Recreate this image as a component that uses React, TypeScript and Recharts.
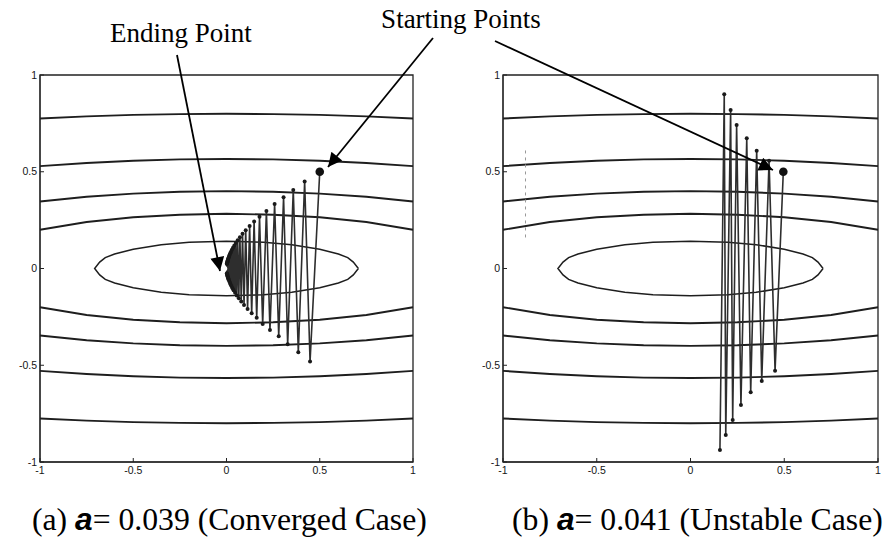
import React from 'react'
import { ScatterChart, Scatter, XAxis, YAxis, ReferenceArea } from 'recharts'

// axis ticks shared by both panels
const axisTicks = [-1, -0.5, 0, 0.5, 1]

// open contours (upper half), read at these x positions; lower half is the mirror image
const contourX = [-1, -0.75, -0.5, -0.25, 0, 0.25, 0.5, 0.75, 1]
const contourLevels = [
  [0.775, 0.786, 0.794, 0.798, 0.8, 0.798, 0.794, 0.786, 0.775],
  [0.529, 0.545, 0.557, 0.564, 0.566, 0.564, 0.557, 0.545, 0.529],
  [0.346, 0.371, 0.387, 0.397, 0.4, 0.397, 0.387, 0.371, 0.346],
  [0.2, 0.24, 0.265, 0.278, 0.283, 0.278, 0.265, 0.24, 0.2],
]

// innermost closed contour, upper half from right tip to left tip
const ellipseX = [0.707, 0.68, 0.65, 0.6, 0.5, 0.35, 0.2, 0, -0.2, -0.35, -0.5, -0.6, -0.65, -0.68, -0.707]
const ellipseY = [0, 0.033, 0.056, 0.075, 0.1, 0.123, 0.136, 0.141, 0.136, 0.123, 0.1, 0.075, 0.056, 0.033, 0]

// (a) alpha = 0.039, converging iterates
const convergedX = [
  0.5, 0.448, 0.419, 0.385, 0.358, 0.328, 0.306, 0.28, 0.258, 0.233, 0.214, 0.194, 0.177, 0.162,
  0.148, 0.135, 0.124, 0.113, 0.103, 0.094, 0.086, 0.079, 0.072, 0.066, 0.06, 0.055, 0.05, 0.046,
  0.042, 0.038, 0.035, 0.032, 0.029, 0.027, 0.024, 0.022, 0.02, 0.019, 0.017, 0.016, 0.014, 0.013,
  0.012, 0.011, 0.01, 0.009, 0.008, 0.008, 0.007, 0.006, 0.006, 0.005, 0.005, 0.004, 0.004, 0.003,
  0.003, 0.003, 0.002, 0.002, 0.002,
]
const convergedY = [
  0.5, -0.481, 0.449, -0.433, 0.406, -0.392, 0.368, -0.35, 0.333, -0.318, 0.297, -0.287, 0.268, -0.255,
  0.243, -0.231, 0.22, -0.209, 0.198, -0.188, 0.179, -0.17, 0.162, -0.154, 0.146, -0.139, 0.132, -0.125,
  0.119, -0.113, 0.107, -0.102, 0.097, -0.092, 0.087, -0.083, 0.079, -0.075, 0.071, -0.068, 0.064, -0.061,
  0.058, -0.055, 0.052, -0.05, 0.047, -0.045, 0.043, -0.041, 0.039, -0.037, 0.035, -0.033, 0.032, -0.03,
  0.029, -0.027, 0.026, -0.025, 0.023,
]
const endPointX = [-0.01]
const endPointY = [0]

// (b) alpha = 0.041, diverging iterates
const unstableX = [0.495, 0.451, 0.419, 0.38, 0.353, 0.321, 0.3, 0.269, 0.246, 0.225, 0.214, 0.188, 0.18, 0.157]
const unstableY = [0.5, -0.528, 0.557, -0.581, 0.609, -0.64, 0.673, -0.705, 0.742, -0.783, 0.819, -0.861, 0.9, -0.938]

// faint dashed mark on the left of panel (b)
const markX = [-0.88, -0.88]
const markY = [0.61, 0.16]

type Pt = { x: number; y: number }
const zip = (xs: number[], ys: number[]): Pt[] => xs.map((x, i) => ({ x, y: ys[i] }))

const contours: Pt[][] = contourLevels.flatMap((ys) => [
  zip(contourX, ys),
  zip(contourX, ys.map((y) => -y)),
])
const ellipse: Pt[] = [
  ...zip(ellipseX, ellipseY),
  ...zip([...ellipseX].reverse(), ellipseY.map((y) => -y)),
]

const noDot = () => <g />
const smallDot = (p: any) => <circle cx={p.cx} cy={p.cy} r={2} fill="#1a1a1a" />
const startDot = (p: any) => <circle cx={p.cx} cy={p.cy} r={4.3} fill="#111" />
const endDot = (p: any) => <circle cx={p.cx} cy={p.cy} r={2.6} fill="#fff" />

const tickStyle = { fontSize: 10.5, fill: '#151515', fontFamily: 'Liberation Sans, Arial, sans-serif' }

function Panel({
  left,
  width,
  marginRight,
  path,
  start,
  end,
  mark,
}: {
  left: number
  width: number
  marginRight: number
  path: Pt[]
  start: Pt[]
  end?: Pt[]
  mark?: Pt[]
}) {
  return (
    <div style={{ position: 'absolute', left, top: 0 }}>
      <ScatterChart width={width} height={500} margin={{ top: 75, right: marginRight, bottom: 18, left: 10 }}>
        <XAxis
          type="number"
          dataKey="x"
          domain={[-1, 1]}
          ticks={axisTicks}
          interval={0}
          height={20}
          tickSize={-4}
          tickMargin={9}
          stroke="#222"
          tick={tickStyle}
        />
        <YAxis
          type="number"
          dataKey="y"
          domain={[-1, 1]}
          ticks={axisTicks}
          interval={0}
          width={30}
          tickSize={-4}
          tickMargin={7}
          stroke="#222"
          tick={tickStyle}
        />
        <ReferenceArea x1={-1} x2={1} y1={-1} y2={1} fill="none" stroke="#222" strokeWidth={1.3} />
        {contours.map((c, i) => (
          <Scatter
            key={i}
            data={c}
            line={{ stroke: '#1e1e1e', strokeWidth: 1.9 }}
            lineType="joint"
            shape={noDot}
            isAnimationActive={false}
          />
        ))}
        <Scatter
          data={ellipse}
          line={{ stroke: '#1e1e1e', strokeWidth: 1.5 }}
          lineType="joint"
          shape={noDot}
          isAnimationActive={false}
        />
        {mark && (
          <Scatter
            data={mark}
            line={{ stroke: '#999', strokeWidth: 1, strokeDasharray: '3 4' }}
            lineType="joint"
            shape={noDot}
            isAnimationActive={false}
          />
        )}
        <Scatter
          data={path}
          line={{ stroke: '#2e2e2e', strokeWidth: 1.6 }}
          lineType="joint"
          shape={smallDot}
          isAnimationActive={false}
        />
        <Scatter data={start} shape={startDot} isAnimationActive={false} />
        {end && <Scatter data={end} shape={endDot} isAnimationActive={false} />}
      </ScatterChart>
    </div>
  )
}

const serif = 'Liberation Serif, Times New Roman, serif'

export default function App() {
  const converged = zip(convergedX, convergedY)
  const unstable = zip(unstableX, unstableY)
  return (
    <div style={{ position: 'absolute', left: 0, top: 0, width: 886, height: 543, background: '#fff', overflow: 'hidden' }}>
      <Panel left={0} width={440} marginRight={27} path={converged} start={converged.slice(0, 1)} end={zip(endPointX, endPointY)} />
      <Panel left={463} width={423} marginRight={8} path={unstable} start={unstable.slice(0, 1)} mark={zip(markX, markY)} />
      <svg width={886} height={543} style={{ position: 'absolute', left: 0, top: 0, pointerEvents: 'none' }}>
        <defs>
          <marker
            id="head"
            viewBox="0 0 10 10"
            refX="10"
            refY="5"
            markerWidth="20"
            markerHeight="14"
            markerUnits="userSpaceOnUse"
            orient="auto"
          >
            <path d="M0,0 L10,5 L0,10 z" fill="#000" />
          </marker>
        </defs>
        <text x={181} y={42} textAnchor="middle" fontFamily={serif} fontSize={27} fill="#000">
          Ending Point
        </text>
        <text x={461} y={28} textAnchor="middle" fontFamily={serif} fontSize={27} fill="#000">
          Starting Points
        </text>
        <line x1={177} y1={55} x2={220} y2={271} stroke="#000" strokeWidth={1.8} markerEnd="url(#head)" />
        <line x1={433} y1={38} x2={328} y2={167} stroke="#000" strokeWidth={1.8} markerEnd="url(#head)" />
        <line x1={495} y1={41} x2={773} y2={170} stroke="#000" strokeWidth={1.8} markerEnd="url(#head)" />
        <text x={32} y={530} fontFamily={serif} fontSize={31.7} fill="#000">
          (a){' '}
          <tspan fontFamily="Liberation Sans, Arial, sans-serif" fontWeight="bold" fontStyle="italic">
            a
          </tspan>
          = 0.039 (Converged Case)
        </text>
        <text x={512} y={530} fontFamily={serif} fontSize={31.7} fill="#000">
          (b){' '}
          <tspan fontFamily="Liberation Sans, Arial, sans-serif" fontWeight="bold" fontStyle="italic">
            a
          </tspan>
          = 0.041 (Unstable Case)
        </text>
      </svg>
    </div>
  )
}
